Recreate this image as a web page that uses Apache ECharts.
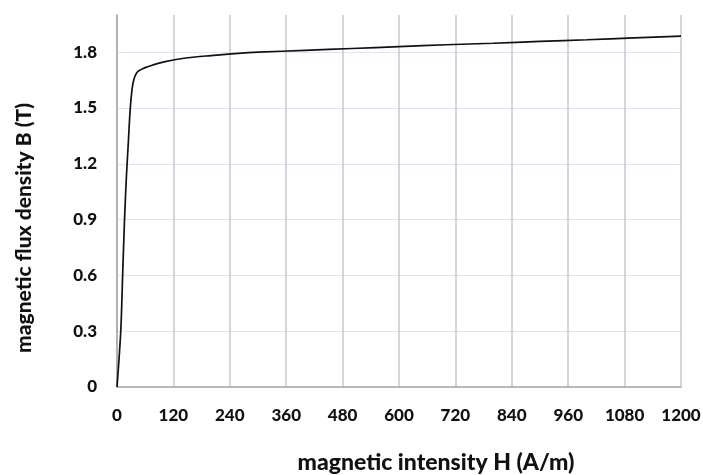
<!DOCTYPE html>
<html>
<head>
<meta charset="utf-8">
<script src="https://cdn.jsdelivr.net/npm/echarts@6/dist/echarts.min.js"></script>
<style>
  html, body { margin: 0; padding: 0; background: #fff; }
  #chart { width: 703px; height: 475px; }
</style>
</head>
<body>
<div id="chart"></div>
<script>
// B-H curve
let hValues = [0, 8, 12, 16, 20, 24, 28, 32, 36, 42, 50, 60, 75, 100, 150, 200, 250, 300, 400, 500, 600, 700, 800, 900, 1000, 1100, 1200]
let bValues = [0, 0.30, 0.60, 0.90, 1.13, 1.31, 1.49, 1.60, 1.655, 1.69, 1.705, 1.717, 1.73, 1.748, 1.77, 1.782, 1.792, 1.80, 1.81, 1.82, 1.83, 1.84, 1.848, 1.858, 1.867, 1.877, 1.886]
let xTitle = 'magnetic intensity H (A/m)'
let yTitle = 'magnetic flux density B (T)'

let font = 'Lato'
let chart = echarts.init(document.getElementById('chart'))
let option = {
  animation: false,
  grid: {
    left: 117,
    right: 22,
    top: 15,
    bottom: 88,
    outerBoundsMode: 'none'
  },
  xAxis: {
    type: 'value',
    min: 0,
    max: 1200,
    interval: 120,
    name: xTitle,
    nameLocation: 'middle',
    nameGap: 64,
    nameTextStyle: {
      fontFamily: font,
      fontWeight: 900,
      fontSize: 23,
      color: '#111',
      padding: [0, 0, 0, 74]
    },
    axisLine: { lineStyle: { color: '#a6a6a6', width: 1.5 } },
    axisTick: { show: false },
    axisLabel: {
      margin: 20,
      fontFamily: font,
      fontWeight: 900,
      fontSize: 17,
      color: '#111',
      formatter: function (v) { return String(v) }
    },
    splitLine: { show: true, lineStyle: { color: '#c8c8c8', width: 1.5 } }
  },
  yAxis: {
    type: 'value',
    min: 0,
    max: 2.0,
    interval: 0.3,
    name: yTitle,
    nameLocation: 'middle',
    nameGap: 82,
    nameTextStyle: {
      fontFamily: font,
      fontWeight: 900,
      fontSize: 21,
      color: '#111',
      padding: [0, 54, 0, 0]
    },
    axisLine: { show: true, lineStyle: { color: '#a6a6a6', width: 1.5 } },
    axisTick: { show: false },
    axisLabel: {
      margin: 20,
      showMaxLabel: false,
      fontFamily: font,
      fontWeight: 900,
      fontSize: 17,
      color: '#111',
      formatter: function (v) { return v === 0 ? '0' : v.toFixed(1) }
    },
    splitLine: { show: true, showMaxLine: false, lineStyle: { color: '#dce6f2', width: 1 } }
  },
  series: [{
    type: 'line',
    data: hValues.map((h, i) => [h, bValues[i]]),
    showSymbol: false,
    smooth: 0.3,
    lineStyle: { color: '#111', width: 1.7 }
  }]
}
chart.setOption(option)
</script>
</body>
</html>
